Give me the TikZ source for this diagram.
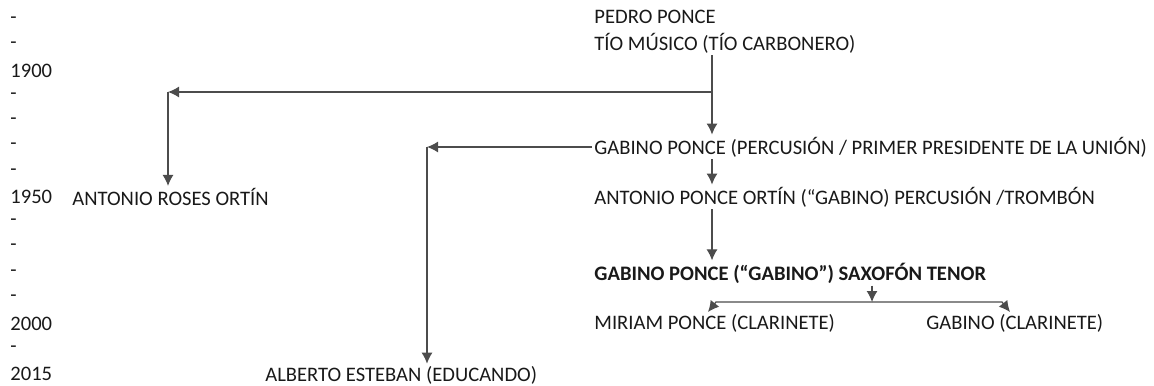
\documentclass[tikz,border=0pt]{standalone}
\usepackage{fontspec}
\setmainfont{Carlito}
\usetikzlibrary{arrows.meta}
\begin{document}
\begin{tikzpicture}[x=0.5pt,y=-0.5pt,
    txt/.style={anchor=west,inner sep=1pt,font=\fontsize{10.3}{12}\selectfont,text=black!90},
    link/.style={draw=black!70,line width=0.6pt,>={Latex[length=5.5pt,width=5.5pt]},->}]
            \useasboundingbox (0,0) rectangle (1154,385);
            % time axis
            \foreach \i/\t in {0/-,1/-,2/1900,3/-,4/-,5/-,6/-,7/1950,8/-,9/-,10/-,11/-,12/2000,13/-,14/2015}
                \node[txt] (yr\i) at (8,20+25.3*\i) {\t};
            % people
            \node[txt] (pedro) at (592,17) {PEDRO PONCE};
            \node[txt] (tio) at (592,43) {TÍO MÚSICO (TÍO CARBONERO)};
            \node[txt] (gabinoA) at (592,147) {GABINO PONCE (PERCUSIÓN / PRIMER PRESIDENTE DE LA UNIÓN)};
            \node[txt] (antonioP) at (592,197) {ANTONIO PONCE ORTÍN (“GABINO) PERCUSIÓN /TROMBÓN};
            \node[txt,font=\fontsize{10.3}{12}\selectfont\bfseries] (gabinoB) at (592,273) {GABINO PONCE (“GABINO”) SAXOFÓN TENOR};
            \node[txt] (miriam) at (592,323) {MIRIAM PONCE (CLARINETE)};
            \node[txt] (gabinoC) at (924,323) {GABINO (CLARINETE)};
            \node[txt] (roses) at (70,197) {ANTONIO ROSES ORTÍN};
            \node[txt] (alberto) at (263,375) {ALBERTO ESTEBAN (EDUCANDO)};
            % corners
            \coordinate (t1) at (712,92);
            \coordinate (k1) at (168,92);
            \coordinate (k2) at (427,147);
            \coordinate (j) at (872,302);
            \coordinate (m1) at (716,302);
            \coordinate (g1) at (1002,302);
            % links
            \draw[link] (tio.south -| t1) -- (gabinoA.north -| t1);
            \draw[link] (t1) -- (k1);
            \draw[link] (k1) -- (roses.north -| k1);
            \draw[link] (gabinoA.west) -- (k2);
            \draw[link] (k2) -- (alberto.north -| k2);
            \draw[link] (gabinoA.south -| t1) -- (antonioP.north -| t1);
            \draw[link] (antonioP.south -| t1) -- (gabinoB.north -| t1);
            \draw[link] (gabinoB.south -| j) -- (j);
            \draw[link] (j) -- (m1) -- ++(-8,10);
            \draw[link] (j) -- (g1) -- ++(8,10);
        \end{tikzpicture}
\end{document}
